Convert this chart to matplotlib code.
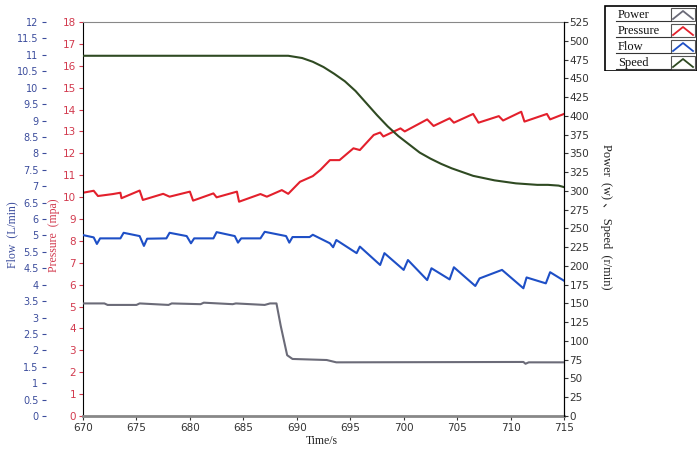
import matplotlib.pyplot as plt
from matplotlib.patches import Rectangle

# time (s) / value pairs
p_time = [670, 671.0, 671.4, 672.8, 673.5, 673.6, 675.3, 675.6, 677.5, 678.1, 680.0, 680.3,
          682.2, 682.5, 684.4, 684.6, 686.6, 687.2, 688.6, 689.2, 690.3, 691.5, 692.2, 693.1,
          694.0, 695.3, 695.9, 697.2, 697.8, 698.1, 699.7, 700.1, 702.2, 702.8, 704.3, 704.7,
          706.5, 707.0, 708.9, 709.3, 711.0, 711.3, 713.4, 713.7, 715]
pressure = [10.2, 10.29, 10.05, 10.14, 10.2, 9.95, 10.3, 9.87, 10.15, 10.02, 10.25, 9.84,
            10.17, 9.99, 10.25, 9.79, 10.14, 10.02, 10.32, 10.15, 10.7, 10.96, 11.24, 11.69,
            11.69, 12.23, 12.15, 12.84, 12.95, 12.77, 13.14, 13.0, 13.55, 13.25, 13.6, 13.4,
            13.8, 13.4, 13.7, 13.5, 13.9, 13.45, 13.8, 13.55, 13.8]

f_time = [670, 671.0, 671.3, 671.6, 673.5, 673.8, 675.3, 675.7, 676.0, 677.8, 678.1, 679.7,
          680.1, 680.4, 682.2, 682.5, 684.2, 684.5, 684.8, 686.6, 687.0, 689.0, 689.3, 689.6,
          691.2, 691.5, 693.1, 693.4, 693.7, 695.6, 695.9, 697.8, 698.2, 700.0, 700.4, 702.2,
          702.6, 704.3, 704.7, 706.7, 707.1, 709.2, 711.2, 711.5, 713.3, 713.7, 715]
flow = [5.51, 5.44, 5.24, 5.41, 5.41, 5.58, 5.48, 5.18, 5.40, 5.41, 5.58, 5.48,
        5.26, 5.41, 5.41, 5.60, 5.48, 5.28, 5.41, 5.41, 5.61, 5.48, 5.28, 5.45,
        5.45, 5.52, 5.26, 5.14, 5.36, 4.96, 5.16, 4.60, 4.96, 4.45, 4.75, 4.14,
        4.50, 4.16, 4.53, 3.96, 4.19, 4.45, 3.89, 4.22, 4.04, 4.38, 4.12]

s_time = [670, 689.2, 690.5, 691.5, 692.5, 693.5, 694.5, 695.5, 696.5, 697.5, 698.5,
          699.5, 700.5, 701.5, 702.5, 703.5, 704.5, 705.5, 706.5, 707.5, 708.5, 709.5,
          710.5, 711.5, 712.5, 713.5, 714.5, 715]
speed = [480, 480, 477, 472, 465, 456, 446, 433, 417, 401, 386,
         373, 362, 351, 343, 336, 330, 325, 320, 317, 314, 312,
         310, 309, 308, 308, 307, 305]

w_time = [670, 672.0, 672.3, 675.0, 675.3, 678.0, 678.3, 681.0, 681.3, 684.0, 684.3,
          687.0, 687.5, 688.1, 688.5, 689.1, 689.6, 692.8, 693.7, 711.2, 711.4, 711.7, 715]
power = [150, 150, 148, 148, 150, 148, 150, 149, 151, 149, 150,
         148, 150, 150, 120, 81, 76, 74.6, 71.5, 72, 69.6, 71.5, 71.5]

flow_ticks = [x * 0.5 for x in range(25)]
flow_labels = ['0', '0.5', '1', '1.5', '2', '2.5', '3', '3.5', '4', '4.5', '5.5', '5',
               '6', '6.5', '7', '7.5', '8', '8.5', '9', '9.5', '10', '10.5', '11', '11.5', '12']

c_power, c_press, c_flow, c_speed = '#6b6b78', '#e3202c', '#1e4fc6', '#2f4a22'
c_flow_txt, c_press_txt = '#3b4c9c', '#d23a4e'
serif = ['Liberation Serif', 'Noto Sans CJK SC']

fig = plt.figure(figsize=(7, 4.5), dpi=100)
ax = fig.add_axes([83 / 700, 1 - 416 / 450, 481 / 700, 394 / 450])
ax_f = ax.twinx()
ax_r = ax.twinx()

# pressure (main axis)
ax.plot(p_time, pressure, color=c_press, lw=1.5)
ax.set_xlim(670, 715)
ax.set_ylim(0, 18)
ax.set_yticks(range(19))
ax.tick_params(axis='y', colors=c_press_txt, labelsize=7.5, length=3, pad=2)
ax.tick_params(axis='x', labelsize=7.5, length=3, pad=2, colors='#333333')
ax.set_xticks(range(670, 716, 5))
ax.spines['top'].set_color('#888888')
ax.spines['bottom'].set_color('#888888')
ax.spines['bottom'].set_linewidth(2)
ax.spines['left'].set_color('black')

# flow axis, offset further left
ax_f.plot(f_time, flow, color=c_flow, lw=1.5)
ax_f.set_ylim(0, 12)
ax_f.yaxis.set_ticks_position('left')
ax_f.spines['left'].set_position(('outward', 27))
for s in ax_f.spines.values():
    s.set_visible(False)
ax_f.set_yticks(flow_ticks)
ax_f.set_yticklabels(flow_labels)
ax_f.tick_params(axis='y', colors=c_flow_txt, labelsize=7, length=3, pad=2)

# power / speed on the right
ax_r.plot(w_time, power, color=c_power, lw=1.5)
ax_r.plot(s_time, speed, color=c_speed, lw=1.5)
ax_r.set_ylim(0, 525)
ax_r.set_yticks(range(0, 526, 25))
ax_r.tick_params(axis='y', labelsize=7.5, length=3, pad=1, colors='#333333')
ax_r.spines['right'].set_color('black')
for s in ['top', 'bottom', 'left']:
    ax_r.spines[s].set_visible(False)

fig.text(12 / 700, 1 - 235 / 450, 'Flow  (L/min)', rotation=90, ha='center', va='center',
         color=c_flow_txt, family=serif, fontsize=8.5)
fig.text(54 / 700, 1 - 235 / 450, 'Pressure  (mpa)', rotation=90, ha='center', va='center',
         color=c_press_txt, family=serif, fontsize=8.5)
fig.text(606 / 700, 1 - 217 / 450, 'Power  (w) 、 Speed  (r/min)', rotation=270,
         ha='center', va='center', color='#222222', family=serif, fontsize=9)
fig.text(322 / 700, 1 - 441 / 450, 'Time/s', ha='center', va='center',
         color='#222222', family=serif, fontsize=8.5)

# legend box with chevron samples
lax = fig.add_axes([604 / 700, 1 - 71 / 450, 93 / 700, 66 / 450])
lax.set_xlim(0, 93)
lax.set_ylim(66, 0)
lax.axis('off')
lax.add_patch(Rectangle((0.5, 0.5), 92, 65, fill=False, ec='black', lw=1.2))
names = ['Power', 'Pressure', 'Flow', 'Speed']
cols = [c_power, c_press, c_flow, c_speed]
for i, (n, c) in enumerate(zip(names, cols)):
    y0 = 2 + i * 16
    lax.text(14, y0 + 8, n, family=serif, fontsize=9, va='center', ha='left', color='#111111')
    lax.plot([12, 67], [y0 + 14, y0 + 14], color='#333333', lw=0.8)
    lax.add_patch(Rectangle((67, y0 + 1), 24, 13, fill=False, ec='#555555', lw=0.8))
    lax.plot([69, 79, 89], [y0 + 12, y0 + 4, y0 + 12], color=c, lw=1.3)

plt.savefig('out.png')
